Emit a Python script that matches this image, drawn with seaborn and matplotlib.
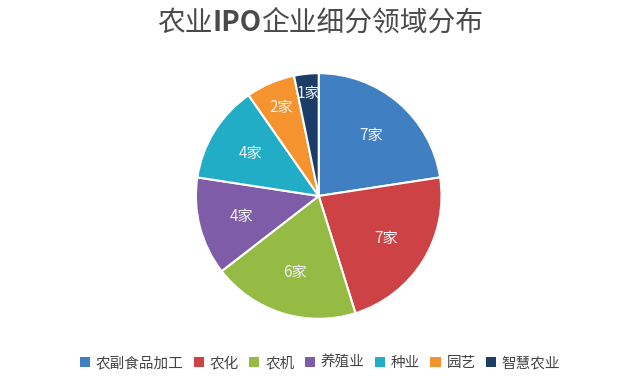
import matplotlib
matplotlib.use("Agg")
import numpy as np
import matplotlib.pyplot as plt
import seaborn as sns
from matplotlib.patches import Patch

sns.set_theme(style="white")
plt.rcParams['font.family'] = ['Noto Sans CJK SC', 'DejaVu Sans']

categories = ["农副食品加工", "农化", "农机", "养殖业", "种业", "园艺", "智慧农业"]
values = [7, 7, 6, 4, 4, 2, 1]
labels = ["7家", "7家", "6家", "4家", "4家", "2家", "1家"]
colors = ["#3f7fc2", "#cc4245", "#95bb45", "#7e5ca8", "#21adc5", "#f5932f", "#1c3d68"]
title_parts = ["农业", "IPO", "企业细分领域分布"]

fig = plt.figure(figsize=(6.4, 3.84), dpi=100)
ax = fig.add_axes([0.498 - 0.194, 0.4896 - 0.323, 0.388, 0.646])
wedges, texts = ax.pie(values, colors=colors, startangle=90, counterclock=False,
                       labels=labels, labeldistance=0.65,
                       wedgeprops=dict(edgecolor="white", linewidth=1.5),
                       textprops=dict(color="#f2f2f2", fontsize=11, ha="center", va="center"))
dists = [0.65, 0.65, 0.65, 0.65, 0.65, 0.78, 0.84]
for w, t, d in zip(wedges, texts, dists):
    ang = np.deg2rad((w.theta1 + w.theta2) / 2)
    t.set_position((d * np.cos(ang), d * np.sin(ang)))
ax.set_xlim(-1.01, 1.01)
ax.set_ylim(-1.01, 1.01)
ax.set_aspect("equal")
ax.axis("off")

# title with bold IPO
fig.canvas.draw()
r = fig.canvas.get_renderer()
tobjs = []
weights = ["normal", "bold", "normal"]
for part, wt in zip(title_parts, weights):
    tobjs.append(fig.text(0, 0.94, part, ha="left", va="center", fontsize=20,
                          color="#4a4a4a", fontweight=wt))
widths = [t.get_window_extent(r).width for t in tobjs]
total = sum(widths)
x = (640 - total) / 2
for t, w in zip(tobjs, widths):
    t.set_x(x / 640)
    x += w

handles = [Patch(facecolor=c, edgecolor="none") for c in colors]
fig.legend(handles, categories, loc="center", bbox_to_anchor=(0.5, 0.055), ncol=7,
           frameon=False, fontsize=10.5, handlelength=0.7, handleheight=0.7,
           handletextpad=0.4, columnspacing=0.7, labelcolor="#444444")

fig.savefig("out.png", dpi=100, facecolor="white")
